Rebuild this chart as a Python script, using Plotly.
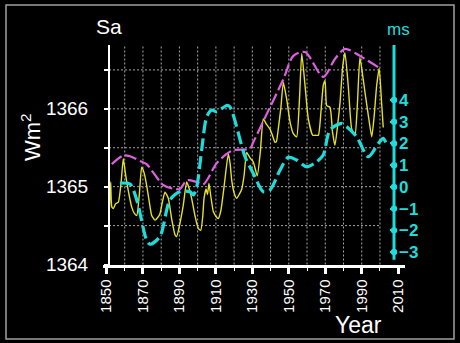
import plotly.graph_objects as go

# ---------------- data ----------------
sa_years = [1851.6, 1852.3, 1852.9, 1853.8, 1855.0, 1856.5, 1858.0, 1859.2, 1860.2, 1861.1,
            1862.5, 1863.8, 1865.2, 1866.6, 1868.0, 1869.3, 1870.6, 1872.0, 1873.5, 1874.8,
            1876.6, 1878.0, 1879.3, 1880.8, 1882.1, 1883.9, 1885.8, 1887.6, 1888.5, 1890.2,
            1892.1, 1894.0, 1895.3, 1896.7, 1898.6, 1900.4, 1901.7, 1902.8, 1903.5, 1904.6,
            1905.4, 1906.2, 1907.2, 1908.6, 1910.0, 1911.3, 1912.8, 1914.5, 1916.8, 1917.8,
            1918.7, 1920.0, 1921.4, 1922.8, 1924.2, 1925.5, 1926.9, 1928.7, 1930.5, 1932.7,
            1934.4, 1936.0, 1937.8, 1939.7, 1941.0, 1942.4, 1943.2, 1944.2, 1945.6, 1947.0,
            1948.8, 1950.7, 1952.5, 1954.3, 1955.8, 1957.1, 1958.9, 1960.7, 1963.1, 1964.6,
            1966.2, 1967.6, 1968.9, 1969.9, 1970.8, 1972.6, 1974.0, 1975.3, 1976.6, 1978.1,
            1979.6, 1980.8, 1982.6, 1984.5, 1986.3, 1987.6, 1989.0, 1990.4, 1991.8, 1993.6,
            1995.5, 1996.8, 1998.2, 1999.6, 2000.9, 2001.8]
sa_values = [1364.72, 1365.06, 1364.74, 1364.72, 1364.78, 1364.80, 1365.05, 1365.36, 1365.20, 1365.06,
             1364.88, 1364.74, 1364.66, 1364.63, 1364.90, 1365.25, 1365.18, 1365.02, 1364.80, 1364.63,
             1364.57, 1364.60, 1364.65, 1364.82, 1364.93, 1364.85, 1364.58, 1364.38, 1364.36, 1364.52,
             1364.76, 1365.06, 1364.98, 1364.85, 1364.62, 1364.46, 1364.44, 1364.62, 1364.85, 1364.97,
             1364.90, 1365.04, 1364.88, 1364.68, 1364.62, 1364.59, 1364.70, 1365.00, 1365.42, 1365.30,
             1365.08, 1364.92, 1364.85, 1364.90, 1364.97, 1365.15, 1365.44, 1365.37, 1365.32, 1365.14,
             1365.45, 1365.87, 1365.80, 1365.74, 1365.66, 1365.57, 1365.58, 1365.74, 1366.00, 1366.34,
             1366.13, 1365.83, 1365.68, 1365.64, 1366.10, 1366.71, 1366.30, 1365.87, 1365.66, 1365.66,
             1365.66, 1365.95, 1366.30, 1366.36, 1366.04, 1366.02, 1365.70, 1365.53, 1365.75, 1366.08,
             1366.55, 1366.72, 1366.30, 1365.74, 1365.66, 1366.05, 1366.66, 1366.45, 1366.21, 1365.92,
             1365.64, 1365.90, 1366.30, 1366.52, 1366.08, 1365.76]

env_years = [1852.9, 1859.2, 1862.9, 1869.3, 1872.0, 1881.2, 1887.6, 1890.3, 1894.0, 1899.5,
             1903.1, 1910.4, 1915.9, 1919.6, 1928.7, 1930.5, 1936.0, 1947.0, 1952.5, 1958.9,
             1968.9, 1975.3, 1980.8, 1989.0, 2000.0]
env_values = [1365.29, 1365.40, 1365.39, 1365.32, 1365.29, 1365.02, 1364.97, 1364.97, 1365.08, 1365.06,
              1365.03, 1365.30, 1365.42, 1365.47, 1365.49, 1365.57, 1365.84, 1366.38, 1366.68, 1366.73,
              1366.41, 1366.64, 1366.77, 1366.68, 1366.52]

lod_years = [1857.4, 1862.9, 1866.6, 1872.0, 1873.9, 1879.3, 1884.8, 1890.3, 1895.8, 1897.6,
             1899.5, 1902.2, 1905.0, 1907.7, 1910.4, 1915.9, 1917.7, 1926.0, 1930.5, 1936.0,
             1939.7, 1945.2, 1949.7, 1954.3, 1959.8, 1965.3, 1968.9, 1972.6, 1979.0, 1981.8,
             1987.2, 1993.6, 1999.1, 2001.8, 2003.7]
lod_values = [0.17, 0.13, -0.60, -2.45, -2.64, -2.29, -0.60, -0.22, -0.22, -0.37,
              0.01, 1.70, 3.23, 3.54, 3.46, 3.75, 3.69, 1.39, 0.63, -0.22,
              -0.14, 0.78, 1.36, 1.24, 0.93, 1.16, 1.47, 2.62, 2.93, 2.77,
              2.31, 1.39, 2.00, 2.24, 1.93]

sa_labels = [1364, 1365, 1366]
sa_minor = [1364.5, 1365.5, 1366.5]
ms_ticks = [-3, -2, -1, 0, 1, 2, 3, 4]
year_ticks = [1850, 1870, 1890, 1910, 1930, 1950, 1970, 1990, 2010]

# ---------------- styling ----------------
W, H = 460, 343
FONT = "Liberation Sans, Arial, sans-serif"
YELLOW = "#e4df2a"
MAGENTA = "#de5fe0"
CYAN = "#1fdcdc"
GRID = "#a8a8a8"

def px_x(p):
    return p / W

def px_y(p):
    return 1 - p / H

X_RANGE = [1848.08, 2013.74]
Y_RANGE = [1364.0, 1366.82]
Y2_RANGE = [-3.574, 6.536]
RIGHT_AXIS_POS = px_x(394)

fig = go.Figure()
fig.add_trace(go.Scatter(x=sa_years, y=sa_values, mode="lines",
                         line=dict(color=YELLOW, width=1.4, shape="spline", smoothing=0.5),
                         hoverinfo="skip"))
fig.add_trace(go.Scatter(x=lod_years, y=lod_values, mode="lines", yaxis="y2",
                         line=dict(color=CYAN, width=3.2, dash="13px,5px", shape="spline", smoothing=0.8),
                         hoverinfo="skip"))
fig.add_trace(go.Scatter(x=env_years, y=env_values, mode="lines",
                         line=dict(color=MAGENTA, width=2.2, dash="12px,4px", shape="spline", smoothing=0.8),
                         hoverinfo="skip"))

shapes = []
# vertical dotted grid
for yr in range(1860, 2001, 10):
    shapes.append(dict(type="line", xref="x", yref="y domain", x0=yr, x1=yr, y0=0, y1=1,
                       line=dict(color=GRID, width=1, dash="2px,2px"), layer="below"))
# horizontal dotted grid
for v in sorted(sa_labels[1:] + sa_minor):
    shapes.append(dict(type="line", xref="x", yref="y", x0=1851.4, x1=2000.5, y0=v, y1=v,
                       line=dict(color=GRID, width=1, dash="2px,2px"), layer="below"))
# right cyan axis line
shapes.append(dict(type="line", xref="paper", yref="y2", x0=RIGHT_AXIS_POS, x1=RIGHT_AXIS_POS,
                   y0=-3.35, y1=Y2_RANGE[1], line=dict(color=CYAN, width=3)))
for t in ms_ticks:
    shapes.append(dict(type="circle", xref="paper", yref="y2", xsizemode="pixel", ysizemode="pixel",
                       xanchor=RIGHT_AXIS_POS, yanchor=t, x0=-3.2, x1=3.2, y0=-3.2, y1=3.2,
                       fillcolor=CYAN, line=dict(width=0)))
# outer frame
shapes.append(dict(type="rect", xref="paper", yref="paper", x0=px_x(6), x1=px_x(454),
                   y0=px_y(339), y1=px_y(5), line=dict(color="#a0a0a0", width=1.5)))

annotations = [
    dict(text="Sa", x=px_x(109), y=px_y(27), xref="paper", yref="paper", showarrow=False,
         font=dict(family=FONT, size=21, color="white"), xanchor="center", yanchor="middle"),
    dict(text="Wm<sup>2</sup>", x=px_x(31), y=px_y(137), xref="paper", yref="paper", showarrow=False,
         textangle=-90, font=dict(family=FONT, size=22, color="white"), xanchor="center", yanchor="middle"),
    dict(text="Year", x=px_x(358), y=px_y(325), xref="paper", yref="paper", showarrow=False,
         font=dict(family=FONT, size=23, color="white"), xanchor="center", yanchor="middle"),
    dict(text="ms", x=px_x(398), y=px_y(30), xref="paper", yref="paper", showarrow=False,
         font=dict(family=FONT, size=17, color=CYAN), xanchor="center", yanchor="middle"),
]

fig.update_layout(
    width=W, height=H, autosize=False,
    margin=dict(l=0, r=0, t=0, b=0, pad=0, autoexpand=False),
    paper_bgcolor="black", plot_bgcolor="black",
    showlegend=False,
    font=dict(family=FONT, color="white"),
    xaxis=dict(domain=[px_x(103), px_x(405)], range=X_RANGE, anchor="y", automargin=False,
               showline=True, linecolor="white", linewidth=3,
               ticks="outside", ticklen=6, tickwidth=3, tickcolor="white",
               tickvals=year_ticks, tickangle=-90, showgrid=False, zeroline=False,
               tickfont=dict(family=FONT, size=15, color="white"),
               minor=dict(tickvals=list(range(1860, 2010, 20)), ticks="outside", ticklen=3,
                          tickwidth=1, tickcolor="white", showgrid=False)),
    yaxis=dict(domain=[px_y(264.5), px_y(45)], range=Y_RANGE, anchor="free", position=px_x(109),
               automargin=False,
               showline=True, linecolor="white", linewidth=2,
               ticks="outside", ticklen=4, tickwidth=2, tickcolor="white",
               tickvals=sa_labels, showgrid=False, zeroline=False,
               ticklabelstandoff=12,
               tickfont=dict(family=FONT, size=19, color="white"),
               minor=dict(tickvals=sa_minor, ticks="outside", ticklen=4, tickwidth=2,
                          tickcolor="white", showgrid=False)),
    yaxis2=dict(overlaying="y", side="right", anchor="free", position=RIGHT_AXIS_POS,
                automargin=False,
                range=Y2_RANGE, showline=False, showgrid=False, zeroline=False,
                ticks="inside", ticklen=4, tickwidth=2, tickcolor=CYAN,
                tickvals=ms_ticks, ticklabelstandoff=4,
                tickfont=dict(family=FONT, size=17, color=CYAN, weight="bold")),
    shapes=shapes,
    annotations=annotations,
)

fig.write_html("out.html")
